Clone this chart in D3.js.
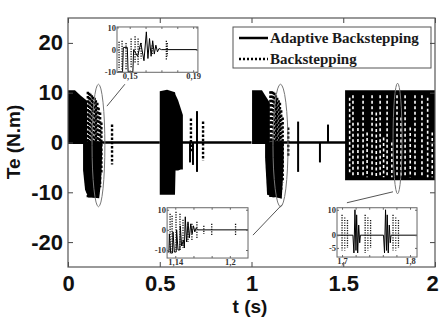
<!DOCTYPE html>
<html>
<head>
<meta charset="utf-8">
<script src="https://cdn.jsdelivr.net/npm/d3@7"></script>
<style>
body { margin: 0; background: #fff; }
</style>
</head>
<body>
<script>
// ---- chart values ----

var xTicks = [0, 0.5, 1, 1.5, 2];
var yTicks = [-20, -10, 0, 10, 20];

// adaptive backstepping (solid), dense switching drawn as envelopes [t, upper, lower]
var adaptiveBands = [
    [[0, 10.5, -0.3], [0.038, 10.5, -0.3], [0.07, 9.4, -0.3], [0.104, 8.4, -0.3]],
    [[0.082, 0, -5.5], [0.093, 0, -9.5], [0.11, 0, -11], [0.17, 0, -11.2], [0.18, 0, -8], [0.186, 0, -2]],
    [[0.5, 10.3, -10.5], [0.54, 10.6, -10.5], [0.583, 10.1, -10.5], [0.586, 9.6, -5.6],
     [0.6, 8.5, -5.6], [0.615, 6.8, -5.4], [0.626, 5.5, -5.4]],
    [[1.003, 10.5, -0.3], [1.057, 10.5, -0.3], [1.1, 8, -0.3]],
    [[1.074, 0, -3], [1.085, 0, -10.5], [1.165, 0, -11.3], [1.175, 0, -4]],
    [[1.51, 10.5, -7.6], [2, 10.5, -7.6]]
];
// single solid spikes [t, max, min]
var adaptiveSpikes = [[0.665, 0, -4], [0.681, 0, -4.5], [0.703, 6.3, -5.9],
    [1.254, 4.2, -5.9], [1.373, 0, -4], [1.417, 3.6, 0]];
// solid line resting at zero [t start, t end]
var adaptiveZero = [[0.1, 0.5], [0.6, 1.0], [1.1, 1.52]];

// backstepping (dotted) columns [t, max, min]
var backCols = [[0.108, 10.2, -11], [0.115, 10, -11], [0.122, 9.8, -11], [0.13, 9.5, -11], [0.137, 9.2, -11],
    [0.145, 9, -11], [0.152, 8.5, -10.8], [0.16, 8, -10.5], [0.167, 7, -10], [0.175, 6, -9], [0.182, 4, -6],
    [0.24, 3.6, -4.4], [0.67, 4.8, -2], [0.736, 4.2, -3.6],
    [1.103, 10.3, -11], [1.11, 10.3, -11], [1.118, 10.2, -11], [1.125, 10, -11], [1.133, 9.5, -11],
    [1.14, 9, -11], [1.148, 8.5, -11], [1.155, 8, -10.5], [1.162, 6.5, -9.5], [1.17, 5, -8], [1.2, 3, -3]];
// light slits inside the dense block after t = 1.5 [t, top, bottom]
var backGaps = [[1.535, 9, -6], [1.553, 9.5, -7], [1.58, 4, -7], [1.608, 9.5, -7], [1.63, 2, -7],
    [1.657, 9.5, -7], [1.68, 6, -7], [1.701, 9.5, -7], [1.72, 1, -7], [1.739, 9.5, -7], [1.765, 0, -7],
    [1.793, 9.5, -7], [1.815, 5, -7], [1.837, 9.5, -7], [1.865, 3, -7], [1.891, 9.5, -7], [1.929, 9.5, -7],
    [1.96, 9, -7], [1.985, 2, -7]];

// zoom ellipses [t centre, value centre, t radius, value radius]
var zoomMarks = [[0.166, -0.6, 0.035, 12.3], [1.158, -0.6, 0.041, 12.3], [1.796, 0.8, 0.0245, 11.1]];
// leader lines [t1, v1, t2, v2]
var leaders = [[0.212, 7.3, 0.31, 11.7], [1.166, -12.5, 1.008, -18.6], [1.771, -9.9, 1.52, -12.1]];

// inset 1 (0.15 s)
var in1XTicks = [0.15, 0.16, 0.17, 0.18, 0.19];
var in1XLabels = ["0,15", "", "", "", "0,19"];
var in1YTicks = [-10, 0, 10];
var in1Solid = [[0.1425, -10], [0.1455, -10], [0.146, 1], [0.1485, 1], [0.149, -10], [0.152, -10], [0.1525, 0],
    [0.155, -3], [0.157, 3], [0.159, -5], [0.1605, 8], [0.1615, -4], [0.1625, 5], [0.1635, -3], [0.1645, 4],
    [0.1655, -2], [0.1665, 2], [0.1675, -1], [0.1685, 0.5], [0.17, 0], [0.1925, 0]];
var in1Dots = [[0.1433, 3.5, -9], [0.1452, 4, -9], [0.1477, 3, -9], [0.1509, 5, -8], [0.1534, 6, -6],
    [0.1553, 5, -7], [0.1572, 3, -4], [0.1642, 2, -2], [0.1731, 4, -5], [0.1737, 3, -3]];

// inset 2 (1.14 s)
var in2XTicks = [1.14, 1.16, 1.18, 1.2];
var in2XLabels = ["1,14", "", "", "1,2"];
var in2YTicks = [-10, 0, 10];
var in2Solid = [[1.1315, -11], [1.133, -11], [1.1335, -2], [1.135, -11.5], [1.137, -11.5], [1.1375, -1],
    [1.139, -11], [1.141, -11], [1.1415, 0], [1.143, -10], [1.145, -10], [1.1455, 2], [1.147, -8], [1.149, -5],
    [1.15, -9], [1.151, 6.5], [1.1525, -6], [1.154, 4], [1.1555, -4], [1.157, 3], [1.1585, -2], [1.16, 2],
    [1.1615, -1], [1.163, 1], [1.165, 0], [1.22, 0]];
var in2Dots = [[1.1343, 8, -12], [1.1365, 7, -11], [1.1408, 9, -10], [1.1452, 8, -10], [1.1485, 5, -9],
    [1.154, 3, -6], [1.1583, 3, -5], [1.1638, 4, -4], [1.1714, 2, -2], [1.1801, 3, -3], [1.2063, 3, -3]];

// inset 3 (1.7 s)
var in3XTicks = [1.7, 1.72, 1.74, 1.76, 1.78, 1.8];
var in3XLabels = ["1,7", "", "", "", "", "1,8"];
var in3YTicks = [-5, 0, 10];
var in3Solid = [[1.6926, 0], [1.716, 0], [1.7175, -7], [1.719, 10], [1.7205, -6], [1.7215, 8], [1.723, -7],
    [1.7245, 4], [1.726, -3], [1.727, 0], [1.761, 0], [1.7625, -7], [1.764, 10], [1.7655, -6], [1.7665, 8],
    [1.768, -7], [1.7695, 4], [1.771, -3], [1.772, 0], [1.8103, 0]];
var in3Dots = [[1.7, 8, -6], [1.704, 7, -6], [1.708, 6, -5], [1.734, 8, -7], [1.738, 7, -6], [1.742, 6, -5],
    [1.775, 8, -6], [1.779, 7, -6], [1.783, 6, -5]];

// legend entries
var legendNames = ["Adaptive Backstepping", "Backstepping"];

// ---- drawing ----

var svg = d3.select("body").append("svg")
    .attr("width", 439)
    .attr("height", 322);

var x = d3.scaleLinear().domain([0, 2]).range([68, 435]);
var y = d3.scaleLinear().domain([-25, 25]).range([267, 18]);

var band = d3.area()
    .x(function(d) { return x(d[0]); })
    .y0(function(d) { return y(d[2]); })
    .y1(function(d) { return y(d[1]); });

svg.selectAll(".band")
    .data(adaptiveBands)
    .enter().append("path")
    .attr("d", band)
    .attr("fill", "#000");

svg.selectAll(".zero")
    .data(adaptiveZero)
    .enter().append("line")
    .attr("x1", function(d) { return x(d[0]); })
    .attr("x2", function(d) { return x(d[1]); })
    .attr("y1", y(0)).attr("y2", y(0))
    .attr("stroke", "#000").attr("stroke-width", 2.5);

svg.selectAll(".spike")
    .data(adaptiveSpikes)
    .enter().append("line")
    .attr("x1", function(d) { return x(d[0]); })
    .attr("x2", function(d) { return x(d[0]); })
    .attr("y1", function(d) { return y(d[1]); })
    .attr("y2", function(d) { return y(d[2]); })
    .attr("stroke", "#000").attr("stroke-width", 2);

svg.selectAll(".dcol")
    .data(backCols)
    .enter().append("line")
    .attr("x1", function(d) { return x(d[0]); })
    .attr("x2", function(d) { return x(d[0]); })
    .attr("y1", function(d) { return y(d[1]); })
    .attr("y2", function(d) { return y(d[2]); })
    .attr("stroke", "#000").attr("stroke-width", 2.4)
    .attr("stroke-dasharray", "2.5,1.8");

svg.selectAll(".gap")
    .data(backGaps)
    .enter().append("line")
    .attr("x1", function(d) { return x(d[0]); })
    .attr("x2", function(d) { return x(d[0]); })
    .attr("y1", function(d) { return y(d[1]); })
    .attr("y2", function(d) { return y(d[2]); })
    .attr("stroke", "#fff").attr("stroke-width", 1.6)
    .attr("stroke-dasharray", "3,2.5");

svg.selectAll(".ell")
    .data(zoomMarks)
    .enter().append("ellipse")
    .attr("cx", function(d) { return x(d[0]); })
    .attr("cy", function(d) { return y(d[1]); })
    .attr("rx", function(d) { return x(d[2]) - x(0); })
    .attr("ry", function(d) { return y(0) - y(d[3]); })
    .attr("fill", "none").attr("stroke", "#777").attr("stroke-width", 1);

svg.selectAll(".lead")
    .data(leaders)
    .enter().append("line")
    .attr("x1", function(d) { return x(d[0]); })
    .attr("y1", function(d) { return y(d[1]); })
    .attr("x2", function(d) { return x(d[2]); })
    .attr("y2", function(d) { return y(d[3]); })
    .attr("stroke", "#555").attr("stroke-width", 1);

// insets, box given in main chart units [t0, t1, v top, v bottom]
function drawInset(box, xDom, yDom, xt, xLab, yt, solid, dots) {
    var x0 = x(box[0]), x1 = x(box[1]), y0 = y(box[2]), y1 = y(box[3]);
    var ix = d3.scaleLinear().domain(xDom).range([x0, x1]);
    var iy = d3.scaleLinear().domain(yDom).range([y1, y0]);
    var g = svg.append("g");

    g.append("rect")
        .attr("x", x0).attr("y", y0)
        .attr("width", x1 - x0).attr("height", y1 - y0)
        .attr("fill", "#fff");

    g.append("path")
        .datum(solid)
        .attr("d", d3.line().x(function(d) { return ix(d[0]); }).y(function(d) { return iy(d[1]); }))
        .attr("fill", "none").attr("stroke", "#000").attr("stroke-width", 1);

    g.selectAll(".idot")
        .data(dots)
        .enter().append("line")
        .attr("x1", function(d) { return ix(d[0]); })
        .attr("x2", function(d) { return ix(d[0]); })
        .attr("y1", function(d) { return iy(d[1]); })
        .attr("y2", function(d) { return iy(d[2]); })
        .attr("stroke", "#111").attr("stroke-width", 1.3)
        .attr("stroke-dasharray", "1.2,1.3");

    var fmtX = function(d) { return xLab[xt.indexOf(d)]; };
    var axes = [
        [d3.axisBottom(ix).tickValues(xt).tickFormat(fmtX), y1],
        [d3.axisTop(ix).tickValues(xt).tickFormat(""), y0]
    ];
    axes.forEach(function(a) {
        var ag = g.append("g").attr("transform", "translate(0," + a[1] + ")")
            .call(a[0].tickSize(-2).tickPadding(1));
        ag.select(".domain").remove();
    });
    var ly = g.append("g").attr("transform", "translate(" + x0 + ",0)")
        .call(d3.axisLeft(iy).tickValues(yt).tickFormat(function(d) { return String(d); }).tickSize(-2).tickPadding(1));
    ly.select(".domain").remove();
    var ry = g.append("g").attr("transform", "translate(" + x1 + ",0)")
        .call(d3.axisRight(iy).tickValues(yt).tickFormat("").tickSize(-2));
    ry.select(".domain").remove();

    g.selectAll(".tick line").attr("stroke", "#666");
    g.selectAll(".tick text")
        .attr("font-family", "'Liberation Serif', 'Times New Roman', serif")
        .attr("font-weight", "bold")
        .attr("font-size", "8.5px")
        .attr("fill", "#333");

    g.append("rect")
        .attr("x", x0).attr("y", y0)
        .attr("width", x1 - x0).attr("height", y1 - y0)
        .attr("fill", "none").attr("stroke", "#666").attr("stroke-width", 1);
}

drawInset([0.267, 0.708, 23.2, 14.1], [0.142, 0.193], [-10.2, 10.2], in1XTicks, in1XLabels, in1YTicks, in1Solid, in1Dots);
drawInset([0.540, 0.981, -13.1, -23.2], [1.131, 1.22], [-14, 11], in2XTicks, in2XLabels, in2YTicks, in2Solid, in2Dots);
drawInset([1.466, 1.902, -13.1, -23.0], [1.6926, 1.8103], [-8.6, 10.8], in3XTicks, in3XLabels, in3YTicks, in3Solid, in3Dots);

// legend
var legend = svg.append("g");
legend.append("rect")
    .attr("x", 233).attr("y", 27).attr("width", 198).attr("height", 41)
    .attr("fill", "#fff").attr("stroke", "#555").attr("stroke-width", 1);
legend.selectAll(".lg")
    .data(legendNames)
    .enter().append("line")
    .attr("x1", 239).attr("x2", 268)
    .attr("y1", function(d, i) { return 38 + i * 21; })
    .attr("y2", function(d, i) { return 38 + i * 21; })
    .attr("stroke", "#000").attr("stroke-width", 2.5)
    .attr("stroke-dasharray", function(d, i) { return i ? "2,2" : null; });
legend.selectAll(".lt")
    .data(legendNames)
    .enter().append("text")
    .attr("x", 270)
    .attr("y", function(d, i) { return 43 + i * 21; })
    .attr("font-family", "'Liberation Serif', 'Times New Roman', serif")
    .attr("font-weight", "bold")
    .attr("font-size", "15px")
    .attr("fill", "#1a1a1a")
    .text(function(d) { return d; });

// frame with inward ticks on all four sides
var fmt = function(d) { return String(d); };
function frameAxis(axis, tx, ty) {
    var g = svg.append("g").attr("transform", "translate(" + tx + "," + ty + ")").call(axis);
    g.select(".domain").remove();
    g.selectAll(".tick line").attr("stroke", "#444");
    g.selectAll(".tick text")
        .attr("font-family", "'Liberation Sans', Arial, sans-serif")
        .attr("font-weight", "bold")
        .attr("font-size", "22px")
        .attr("fill", "#111");
    return g;
}
var xb = frameAxis(d3.axisBottom(x).tickValues(xTicks).tickFormat(fmt).tickSize(-5).tickPadding(8), 0, 267);
// last label sits against the window edge
xb.selectAll(".tick text").filter(function(d) { return d === 2; }).attr("dx", -3);
frameAxis(d3.axisTop(x).tickValues(xTicks).tickFormat("").tickSize(-5), 0, 18);
frameAxis(d3.axisLeft(y).tickValues(yTicks).tickFormat(fmt).tickSize(-5).tickPadding(5), 68, 0);
frameAxis(d3.axisRight(y).tickValues(yTicks).tickFormat("").tickSize(-5), 435, 0);

svg.append("rect")
    .attr("x", 68).attr("y", 18).attr("width", 367).attr("height", 249)
    .attr("fill", "none").attr("stroke", "#555").attr("stroke-width", 1.2);

// axis titles
svg.append("text")
    .attr("transform", "translate(20,142) rotate(-90)")
    .attr("text-anchor", "middle")
    .attr("font-family", "'Liberation Sans', Arial, sans-serif")
    .attr("font-weight", "bold")
    .attr("font-size", "19px")
    .attr("fill", "#111")
    .text("Te (N.m)");
svg.append("text")
    .attr("x", 250).attr("y", 313)
    .attr("text-anchor", "middle")
    .attr("font-family", "'Liberation Sans', Arial, sans-serif")
    .attr("font-weight", "bold")
    .attr("font-size", "19px")
    .attr("fill", "#111")
    .text("t (s)");
</script>
</body>
</html>
